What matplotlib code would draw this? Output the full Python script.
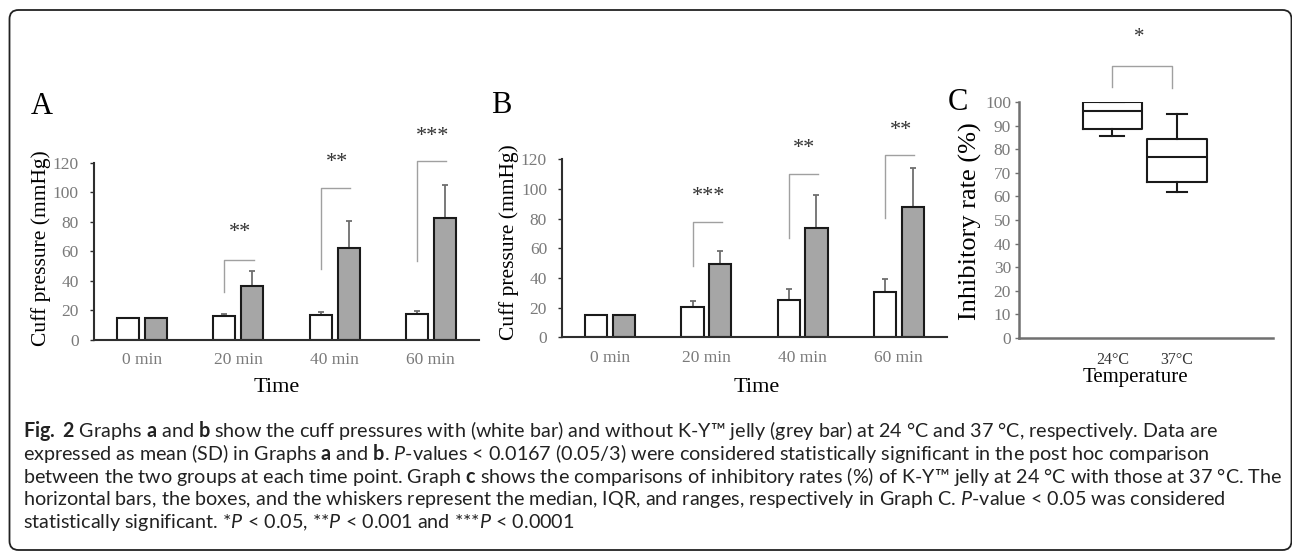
import numpy as np
import matplotlib
matplotlib.use("Agg")
import matplotlib.pyplot as plt
from matplotlib.patches import FancyBboxPatch
from matplotlib.transforms import IdentityTransform

W, H = 1292, 552

# ---- data ----
times = ["0 min", "20 min", "40 min", "60 min"]

a_white = [15, 16.5, 16.8, 17.4]
a_white_sd = [0, 1.1, 2.0, 2.2]
a_grey = [15, 36.8, 62.0, 82.8]
a_grey_sd = [0, 9.9, 18.3, 22.3]
a_stars = ["**", "**", "***"]
a_br_low = [32.7, 47.8, 53.5]
a_br_top = [54, 102.6, 121]
a_star_y = [76.7, 124, 141.7]

b_white = [15, 20.4, 25.4, 30.6]
b_white_sd = [0, 4.1, 7.0, 9.0]
b_grey = [15, 49.4, 73.5, 87.9]
b_grey_sd = [0, 8.8, 22.5, 26.5]
b_stars = ["***", "**", "**"]
b_br_low = [48.3, 66.7, 80.7]
b_br_top = [77.5, 110.3, 123.1]
b_star_y = [98.7, 130.8, 143]

temps = ["24°C", "37°C"]
c_whislo = [85.6, 61.8]
c_q1 = [88.5, 66.0]
c_med = [96.5, 76.8]
c_q3 = [100, 84.3]
c_whishi = [100, 95]

caption = [
    r"$\mathbf{Fig.}$ $\mathbf{2}$ Graphs $\mathbf{a}$ and $\mathbf{b}$ show the cuff pressures with (white bar) and without K-Y™ jelly (grey bar) at 24 °C and 37 °C, respectively. Data are",
    r"expressed as mean (SD) in Graphs $\mathbf{a}$ and $\mathbf{b}$. $\mathit{P}$-values < 0.0167 (0.05/3) were considered statistically significant in the post hoc comparison",
    r"between the two groups at each time point. Graph $\mathbf{c}$ shows the comparisons of inhibitory rates (%) of K-Y™ jelly at 24 °C with those at 37 °C. The",
    r"horizontal bars, the boxes, and the whiskers represent the median, IQR, and ranges, respectively in Graph C. $\mathit{P}$-value < 0.05 was considered",
    r"statistically significant. *$\mathit{P}$ < 0.05, **$\mathit{P}$ < 0.001 and ***$\mathit{P}$ < 0.0001",
]

CAP_FONT = "Lato"
plt.rcParams["font.family"] = ["Liberation Serif", "DejaVu Serif"]
plt.rcParams["mathtext.fontset"] = "custom"
plt.rcParams["mathtext.rm"] = CAP_FONT
plt.rcParams["mathtext.bf"] = CAP_FONT + ":bold"
plt.rcParams["mathtext.it"] = CAP_FONT + ":italic"

AX = "#2e2e2e"
TICK = "#7a7a7a"


def px_rect(l, t, r, b):
    return [l / W, 1 - b / H, (r - l) / W, (b - t) / H]


def fx(x):
    return x / W


def fy(y):
    return 1 - y / H


def style_axes(ax, lw=1.5, color=AX):
    for s in ["top", "right"]:
        ax.spines[s].set_visible(False)
    for s in ["left", "bottom"]:
        ax.spines[s].set_color(color)
        ax.spines[s].set_linewidth(lw)


def stars_text(ax, x, y, s, size):
    # y is where the middle of the asterisks sits, so nudge the text box down
    ax.annotate(s, (x, y), xytext=(0, -4), textcoords="offset points", ha="center",
                va="center", fontsize=size, color="#333333", annotation_clip=False)


def bar_panel(ax, white, white_sd, grey, grey_sd, br_low, br_top, star_y, stars):
    x = np.arange(len(times)) + 0.5
    off, w = 0.145, 0.23
    ax.bar(x - off, white, w, color="white", edgecolor="#1a1a1a", lw=1.5, zorder=2)
    ax.bar(x + off, grey, w, color="#a6a6a6", edgecolor="#1a1a1a", lw=1.5, zorder=2)
    z = np.zeros(len(times))
    ax.errorbar(x - off, white, yerr=[z, white_sd], fmt="none", ecolor="#6e6e6e",
                elinewidth=1.3, capsize=2.5, capthick=1.3, zorder=1)
    ax.errorbar(x + off, grey, yerr=[z, grey_sd], fmt="none", ecolor="#6e6e6e",
                elinewidth=1.3, capsize=2.5, capthick=1.3, zorder=1)
    for i in range(len(stars)):
        xi = x[i + 1]
        ax.plot([xi - off, xi - off, xi + 0.16], [br_low[i], br_top[i], br_top[i]],
                color="#a0a0a0", lw=1, clip_on=False)
        stars_text(ax, xi + 0.02, star_y[i], stars[i], 16)
    ax.set_xlim(0, 4)
    ax.set_ylim(0, 120)
    ax.set_yticks(range(0, 121, 20))
    ax.set_xticks(x, times)
    style_axes(ax)
    ax.tick_params(axis="y", direction="out", length=3, width=1, color=AX,
                   labelcolor=TICK, labelsize=12.5, pad=8)
    ax.tick_params(axis="x", length=0, labelcolor=TICK, labelsize=12.5, pad=9)


fig = plt.figure(figsize=(W / 100, H / 100), dpi=100)

ax_a = fig.add_axes(px_rect(94, 162.7, 479, 340))
bar_panel(ax_a, a_white, a_white_sd, a_grey, a_grey_sd, a_br_low, a_br_top, a_star_y, a_stars)
ax_b = fig.add_axes(px_rect(562.3, 159.3, 946.7, 337.3))
bar_panel(ax_b, b_white, b_white_sd, b_grey, b_grey_sd, b_br_low, b_br_top, b_star_y, b_stars)

# panel C box plot
ax_c = fig.add_axes(px_rect(1019.3, 102.3, 1273.3, 337.7))
stats = []
for i, t in enumerate(temps):
    stats.append(dict(label=t, whislo=c_whislo[i], q1=c_q1[i], med=c_med[i],
                      q3=c_q3[i], whishi=c_whishi[i]))
lp = dict(color="#1a1a1a", linewidth=1.5)
ax_c.bxp(stats, positions=[1, 2], widths=0.92, showfliers=False, capwidths=[0.37, 0.31],
         boxprops=lp, whiskerprops=lp, capprops=lp, medianprops=lp)
ax_c.plot([1, 1, 1.93, 1.93], [106.7, 115.4, 115.4, 106], color="#a0a0a0", lw=1, clip_on=False)
stars_text(ax_c, 1.42, 130, "*", 15)
ax_c.set_xlim(-0.44, 3.49)
ax_c.set_ylim(0, 100)
ax_c.set_yticks(range(0, 101, 10))
ax_c.set_xticks([1, 2], temps)
style_axes(ax_c, lw=1.8, color="#707070")
ax_c.tick_params(axis="y", direction="out", length=3, width=1, color="#707070",
                 labelcolor=TICK, labelsize=12.5, pad=3)
ax_c.tick_params(axis="x", length=0, labelcolor="#333333", labelsize=11.5, pad=10)

# axis titles and panel letters
fig.text(fx(40.7), fy(248), "Cuff pressure (mmHg)", rotation=90, ha="center", va="center", fontsize=15.5)
fig.text(fx(509), fy(242), "Cuff pressure (mmHg)", rotation=90, ha="center", va="center", fontsize=15.5)
fig.text(fx(970.7), fy(221), "Inhibitory rate (%)", rotation=90, ha="center", va="center", fontsize=19)
fig.text(fx(276.7), fy(388), "Time", ha="center", va="center", fontsize=16)
fig.text(fx(756.7), fy(388), "Time", ha="center", va="center", fontsize=16)
fig.text(fx(1135), fy(377.5), "Temperature", ha="center", va="center", fontsize=15)
fig.text(fx(41.7), fy(106.7), "A", ha="center", va="center", fontsize=22)
fig.text(fx(501.7), fy(105), "B", ha="center", va="center", fontsize=22)
fig.text(fx(958), fy(103), "C", ha="center", va="center", fontsize=22)

# caption: size picked so the third line runs to the right edge like the original
renderer = fig.canvas.get_renderer()
probe = fig.text(0, 0, caption[2], fontsize=12, family=CAP_FONT)
cap_size = 12 * 1258 / probe.get_window_extent(renderer).width
probe.remove()
for i, line in enumerate(caption):
    fig.text(fx(23), fy(437 + 22.8 * i), line, ha="left", va="baseline",
             fontsize=cap_size, family=CAP_FONT, color="#222222")

# rounded frame around the whole figure
frame = FancyBboxPatch((9.5, H - 550), 1291.5 - 9.5, 540, boxstyle="round,pad=0,rounding_size=9",
                       transform=IdentityTransform(), fill=False, lw=1.3, ec="#222222")
fig.add_artist(frame)

fig.savefig("out.png", dpi=100)
